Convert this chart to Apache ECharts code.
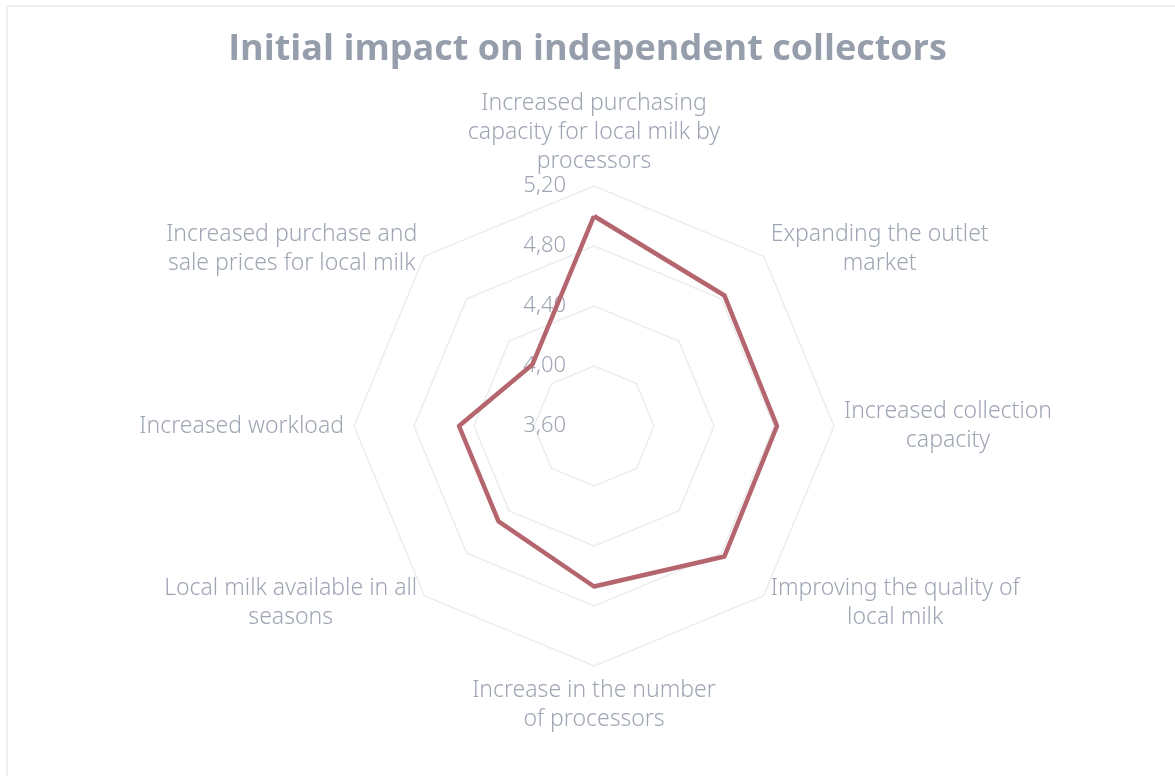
<!DOCTYPE html>
<html>
<head>
<meta charset="utf-8">
<title>Initial impact on independent collectors</title>
<script src="https://cdn.jsdelivr.net/npm/echarts@6/dist/echarts.min.js"></script>
<style>
  html, body { margin: 0; padding: 0; background: #ffffff; overflow: hidden; }
  #frame {
    position: absolute; left: 6px; top: 5px; width: 1300px; height: 900px;
    border: 2px solid #efefef; box-sizing: border-box;
  }
  #chart { position: absolute; left: 0; top: 0; width: 1175px; height: 776px; }
</style>
</head>
<body>
<div id="frame"></div>
<div id="chart"></div>
<script>
// Indicators, listed clockwise starting from the top
const categories = [
  'Increased purchasing\ncapacity for local milk by\nprocessors',
  'Expanding the outlet\nmarket',
  'Increased collection\ncapacity',
  'Improving the quality of\nlocal milk',
  'Increase in the number\nof processors',
  'Local milk available in all\nseasons',
  'Increased workload',
  'Increased purchase and\nsale prices for local milk'
];
// Mean score per indicator (same order)
const scores = [5.00, 4.83, 4.82, 4.83, 4.67, 4.50, 4.50, 4.18];
// Scale of the radial axis
const axisMin = 3.6;
const axisMax = 5.2;
const axisSplits = 4;

const labelColor = '#9ea5b3';
const titleFont = '"Open Sans", "Noto Sans", sans-serif';
const textFont = '"Noto Sans", "Open Sans", sans-serif';

// ECharts lays indicators out counter-clockwise, so keep the first one at
// the top and reverse the rest to read clockwise.
const order = [0].concat(categories.map((_, i) => i).slice(1).reverse());

const indicators = order.map((idx, k) => ({
  name: categories[idx],
  min: axisMin,
  max: axisMax,
  // only the top axis carries tick labels
  axisLabel: { show: k === 0 }
}));
const values = order.map(idx => scores[idx]);

const chart = echarts.init(document.getElementById('chart'), null, { renderer: 'canvas' });

chart.setOption({
  backgroundColor: 'transparent',
  animation: false,
  title: {
    text: 'Initial impact on independent collectors',
    left: 'center',
    top: 27,
    textStyle: {
      fontFamily: titleFont,
      fontWeight: 'bold',
      fontSize: 36,
      color: '#969dab'
    }
  },
  radar: {
    center: [594, 426],
    radius: 240,
    startAngle: 90,
    splitNumber: axisSplits,
    shape: 'polygon',
    nameGap: 10,
    axisName: {
      formatter: function (name) {
        return name.split('\n').map(l => '{c|' + l + '}').join('\n');
      },
      rich: {
        c: {
          align: 'center',
          fontFamily: textFont,
          fontWeight: 300,
          fontSize: 23,
          lineHeight: 29,
          color: labelColor
        }
      }
    },
    axisLine: { show: false },
    axisTick: { show: false },
    axisLabel: {
      show: false,
      margin: 28,
      fontFamily: textFont,
      fontWeight: 300,
      fontSize: 22,
      color: labelColor,
      formatter: v => v.toFixed(2).replace('.', ',')
    },
    splitLine: { lineStyle: { color: '#ececec', width: 1.5 } },
    splitArea: { show: false },
    indicator: indicators
  },
  series: [{
    type: 'radar',
    symbol: 'none',
    lineStyle: { color: '#b5656e', width: 4.5 },
    data: [{ value: values, name: 'Score' }]
  }]
});
</script>
</body>
</html>
